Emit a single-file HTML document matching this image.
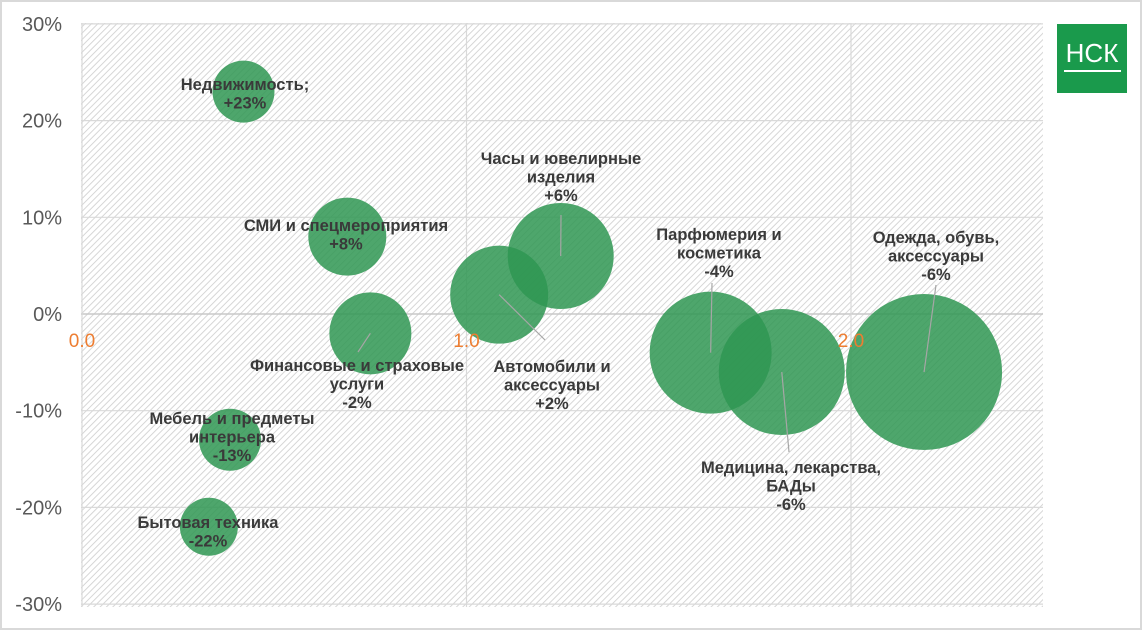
<!DOCTYPE html>
<html><head><meta charset="utf-8">
<style>
html,body{margin:0;padding:0;background:#fff;}
svg{display:block;font-family:"Liberation Sans",sans-serif;}
</style></head>
<body>
<svg id="chart" width="1142" height="630" viewBox="0 0 1142 630" xmlns="http://www.w3.org/2000/svg">
<defs>
<pattern id="hatch" patternUnits="userSpaceOnUse" width="4.5" height="4.5" patternTransform="rotate(45)">
<rect width="5" height="5" fill="#fff"/>
<line x1="0" y1="0" x2="0" y2="5" stroke="#d2d2d2" stroke-width="1.8"/>
</pattern>
</defs>
<rect x="1" y="1" width="1140" height="628" fill="#fff" stroke="#d9d9d9" stroke-width="2"/>
<rect x="81" y="23" width="962" height="584" fill="url(#hatch)"/>
<g id="grid"></g>
<g id="bubbles"></g>
<g id="labels"></g>
<g id="axes"></g>
<g>
<rect x="1057" y="24" width="70" height="69" fill="#1a9a4c"/>
<text x="1092" y="62" text-anchor="middle" font-size="26" fill="#fff">НСК</text>
<rect x="1064" y="70" width="57" height="2" fill="#fff"/>
</g>
</svg>
<script>
const categories=["Недвижимость;","СМИ и спецмероприятия","Финансовые и страховые услуги","Мебель и предметы интерьера","Бытовая техника","Автомобили и аксессуары","Часы и ювелирные изделия","Парфюмерия и косметика","Медицина, лекарства, БАДы","Одежда, обувь, аксессуары"];
const xValues=[0.42,0.69,0.75,0.385,0.33,1.085,1.245,1.635,1.82,2.19];
const yValues=[23,8,-2,-13,-22,2,6,-4,-6,-6];
const sizes=[31,39,41,31,29,49,53,61,63,78];
const valueLabels=["+23%","+8%","-2%","-13%","-22%","+2%","+6%","-4%","-6%","-6%"];
const xTicks=["0.0","1.0","2.0"];
const xTickVals=[0,1,2];
const yTicks=[30,20,10,0,-10,-20,-30];

const NS="http://www.w3.org/2000/svg";
const X=v=>82+v*384.5;
const Y=v=>314-v*9.67;
function mk(tag,attrs,parent,text){const e=document.createElementNS(NS,tag);for(const k in attrs)e.setAttribute(k,attrs[k]);if(text!==undefined)e.textContent=text;parent.appendChild(e);return e;}
const grid=document.getElementById('grid'),bub=document.getElementById('bubbles'),lab=document.getElementById('labels'),axes=document.getElementById('axes');

yTicks.forEach(t=>{
 const l=mk('line',{x1:81,x2:1043,y1:Y(t),y2:Y(t),stroke:t===0?'#c8c8c8':'#d9d9d9','stroke-width':t===0?1.5:1.2},grid);
 
 
 const tx=mk('text',{x:62,y:Y(t)+7,'text-anchor':'end','font-size':20,fill:'#595959'},axes,t+'%');
 
 
});
xTickVals.forEach((v,i)=>{
 const l=mk('line',{x1:X(v),x2:X(v),y1:23,y2:607,stroke:'#d9d9d9','stroke-width':1.2},grid);
 
 
 const tx=mk('text',{x:X(v),y:347,'text-anchor':'middle','font-size':19,fill:'#ed7d31'},axes,xTicks[i]);
 
 
});

const layout=[
 {l:["Недвижимость;"],x:245,y:90,lead:null},
 {l:["СМИ и спецмероприятия"],x:346,y:231,lead:null},
 {l:["Финансовые и страховые","услуги"],x:357,y:371,lead:[358,352]},
 {l:["Мебель и предметы","интерьера"],x:232,y:424,lead:null},
 {l:["Бытовая техника"],x:208,y:528,lead:null},
 {l:["Автомобили и","аксессуары"],x:552,y:372,lead:[545,340]},
 {l:["Часы и ювелирные","изделия"],x:561,y:164,lead:[561,215]},
 {l:["Парфюмерия и","косметика"],x:719,y:240,lead:[712,283]},
 {l:["Медицина, лекарства,","БАДы"],x:791,y:473,lead:[789,452]},
 {l:["Одежда, обувь,","аксессуары"],x:936,y:243,lead:[936,285]}
];
categories.forEach((c,i)=>{
 const cx=X(xValues[i]),cy=Y(yValues[i]);
 const ci=mk('circle',{cx:cx,cy:cy,r:sizes[i],fill:'#2f9652','fill-opacity':0.85},bub);
 
 
 const L=layout[i];
 if(L.lead){
  const ln=mk('line',{x1:cx,y1:cy,x2:L.lead[0],y2:L.lead[1],stroke:'#a6a6a6','stroke-width':1.2},lab);
  
  
 }
 const lines=L.l.concat([valueLabels[i]]);
 lines.forEach((s,j)=>{
  const t=mk('text',{x:L.x,y:L.y+j*18.5,'text-anchor':'middle','font-size':16.5,'font-weight':'bold',fill:'#3a3a3a'},lab,s);
  
  
 });
});
</script>
</body></html>
